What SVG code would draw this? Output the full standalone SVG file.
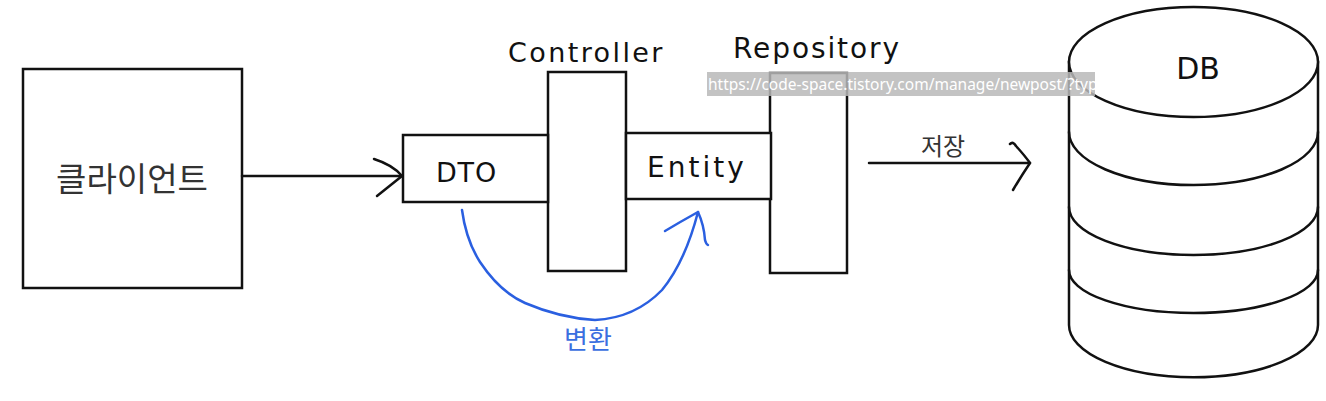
<svg xmlns="http://www.w3.org/2000/svg" width="1326" height="401" viewBox="0 0 1326 401">
<style>
.box{fill:#fff;stroke:#111;stroke-width:2.5}
.ln{fill:none;stroke:#111;stroke-width:2.5;stroke-linecap:round;stroke-linejoin:round}
.blue{fill:none;stroke:#2a5fe0;stroke-width:2.5;stroke-linecap:round;stroke-linejoin:round}
.lbl{font-family:"DejaVu Sans","Noto Sans",sans-serif;fill:#111}
.kr{font-family:"Noto Sans CJK KR","Noto Sans",sans-serif;fill:#333}
</style>
<rect width="1326" height="401" fill="#fff"/>
<g id="client">
<rect class="box" x="23" y="69" width="219" height="219"/>
<text class="kr" x="132" y="191" font-size="33" text-anchor="middle">클라이언트</text>
</g>
<g id="controller">
<rect class="box" x="548" y="72" width="78" height="199"/>
<text class="lbl" x="508" y="62" font-size="27" letter-spacing="2.4">Controller</text>
</g>
<g id="repository">
<rect class="box" x="770" y="73" width="77" height="200"/>
<text class="lbl" x="733" y="58" font-size="28" letter-spacing="1.9">Repository</text>
</g>
<g id="dto">
<rect class="box" x="403" y="135" width="145" height="67"/>
<text class="lbl" x="436" y="182" font-size="27" letter-spacing="0.8">DTO</text>
</g>
<g id="entity">
<rect class="box" x="626" y="133" width="145" height="66"/>
<text class="lbl" x="647" y="177" font-size="28" letter-spacing="3">Entity</text>
</g>
<g id="db">
<path class="box" d="M1069,62 L1069,325 A124,52 0 0 0 1318,325 L1318,62 Z"/>
<ellipse class="box" cx="1193.5" cy="62" rx="124.5" ry="55"/>
<path class="ln" d="M1069,132 A124.5,53 0 0 0 1318,132"/>
<path class="ln" d="M1069,207 A124.5,48 0 0 0 1318,207"/>
<path class="ln" d="M1069,270 A124.5,43 0 0 0 1318,270"/>
<text class="lbl" x="1198" y="79" font-size="30" text-anchor="middle">DB</text>
</g>
<g id="connectors">
<path class="ln" d="M242,176 L402,176"/>
<path class="ln" d="M374,159 Q393,165 402,176 L377,196"/>
<path class="ln" d="M869,163 L1030,163"/>
<path class="ln" d="M1010,144 Q1013,141 1016,146 Q1025,156 1030,163 Q1020,178 1013,190"/>
<text class="kr" x="943" y="155" font-size="24" text-anchor="middle">저장</text>
<path class="blue" d="M462,210 Q466,240 480,262 Q500,292 525,303 Q560,318 595,320 Q635,318 662,290 Q685,262 698,212"/>
<path class="blue" d="M665,231 Q680,222 698,212 Q704,225 705,240 Q706,244 708,245"/>
<text x="588" y="349" font-size="26" text-anchor="middle" font-family="Noto Sans CJK KR, Noto Sans, sans-serif" fill="#3b6fe0">변환</text>
</g>
<g id="url-overlay">
<rect x="707" y="72" width="388" height="24" fill="#b8b8b8" fill-opacity="0.85"/>
<text x="708" y="90" font-size="15.5" font-family="Noto Sans, Liberation Sans, sans-serif" fill="#fff">https://code-space.tistory.com/manage/newpost/?typ</text>
</g>
</svg>
